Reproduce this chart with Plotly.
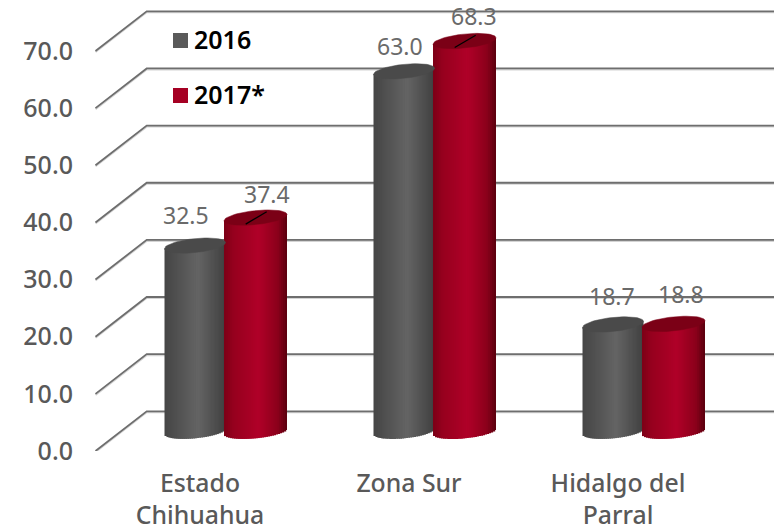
import math
import plotly.graph_objects as go

categories = ["Estado<br>Chihuahua", "Zona Sur", "Hidalgo del<br>Parral"]
values_2016 = [32.5, 63.0, 18.7]
values_2017 = [37.4, 68.3, 18.8]
y_ticks = [0, 10, 20, 30, 40, 50, 60, 70]

W, H = 774, 528
L, B = 77, 77
PX_X = 209.0          # pixels per category
PX_Y = 5.714          # pixels per value unit
CAT0 = 225.0          # pixel position of first category centre
FONT = "Noto Sans"

X = lambda px: (px - CAT0) / PX_X
Y = lambda py: (H - B - py) / PX_Y
DX = lambda px: px / PX_X
DY = lambda px: px / PX_Y

BASE = DY(19.7)       # cylinders stand half-way along the floor
WALL = DY(39.7)       # floor depth
TILT = 0.1 * PX_X / PX_Y
RY = DY(7.0)


def hex2rgb(c):
    return [int(c[i:i + 2], 16) for i in (1, 3, 5)]


def grad(stops, t):
    for (a, ca), (b, cb) in zip(stops, stops[1:]):
        if t <= b:
            f = (t - a) / (b - a)
            ra, rb = hex2rgb(ca), hex2rgb(cb)
            return "rgb(%d,%d,%d)" % tuple(round(p + (q - p) * f) for p, q in zip(ra, rb))
    return stops[-1][1]


series = [
    dict(name="2016", values=values_2016, shift=-30.0, rx=30.5, cap="#4a4a4a",
         stops=[(0, "#454545"), (0.55, "#646464"), (1, "#404040")],
         swatch="#5a5a5a", legend_y=40.5),
    dict(name="2017*", values=values_2017, shift=30.5, rx=31.5, cap="#7b0016",
         stops=[(0, "#7c0016"), (0.15, "#96001e"), (0.55, "#b00028"), (0.85, "#8c001b"), (1, "#5a000e")],
         swatch="#a50023", legend_y=95.5),
]

fig = go.Figure()
N = 31
for s in series:
    rx = DX(s["rx"])
    step = 2 * rx / N
    for j in range(N):
        u = -1 + (j + 0.5) * 2 / N
        top = [v + BASE + TILT * rx * u for v in s["values"]]
        bot = [BASE + TILT * rx * u - RY * math.sqrt(1 - u * u) for _ in s["values"]]
        fig.add_bar(
            x=list(range(len(categories))),
            y=[a - b for a, b in zip(top, bot)],
            base=bot,
            width=step * (1.6 if j < N - 1 else 1.0),
            offset=DX(s["shift"]) - rx + j * step,
            marker=dict(color=grad(s["stops"], (j + 0.5) / N), line_width=0),
            showlegend=False,
            hoverinfo="skip",
        )
    for i, v in enumerate(s["values"]):
        angles = [k * 2 * math.pi / 60 for k in range(61)]
        fig.add_scatter(
            x=[i + DX(s["shift"]) + rx * math.cos(t) for t in angles],
            y=[v + BASE + TILT * rx * math.cos(t) + RY * math.sin(t) for t in angles],
            mode="lines", fill="toself", fillcolor=s["cap"],
            line=dict(color=s["cap"], width=0.5),
            showlegend=False, hoverinfo="skip",
        )

# leader lines of the two tallest-offset labels
for i in (0, 1):
    cx = i + DX(series[1]["shift"])
    cy = values_2017[i] + BASE
    fig.add_scatter(
        x=[cx - DX(9.8), cx + DX(11.2)],
        y=[cy - DY(6.5), cy + DY(5.8)],
        mode="lines", line=dict(color="black", width=1.3),
        showlegend=False, hoverinfo="skip",
    )

annotations = []

# legend
for s in series:
    fig.add_scatter(
        x=[X(180.5)], y=[Y(s["legend_y"])], mode="markers",
        marker=dict(symbol="square", size=15, color=s["swatch"], line_width=0),
        name=s["name"], showlegend=False, hoverinfo="skip",
    )
    annotations.append(dict(
        x=X(194), y=Y(s["legend_y"] - 1.5), xref="x", yref="y",
        text=s["name"], showarrow=False, xanchor="left", yanchor="middle",
        borderpad=0, borderwidth=0,
        font=dict(family=FONT, size=25, color="black", weight=600),
    ))

# walls and floor lines
shapes = []
x_front, x_back, x_end = X(95.5), X(146.7), X(774)
for v in y_ticks:
    path = f"M {x_front} {v} L {x_back} {v + WALL} L {x_end} {v + WALL}"
    shadow = f"M {x_front} {v - DY(1)} L {x_back} {v + WALL - DY(1)} L {x_end} {v + WALL - DY(1)}"
    shapes.append(dict(type="path", path=shadow, xref="x", yref="y", layer="below",
                       line=dict(color="#d4d4d4", width=2)))
    shapes.append(dict(type="path", path=path, xref="x", yref="y", layer="below",
                       line=dict(color="#6e6e6e", width=1.8)))

# value labels
label_shift = [
    [(-9.5, 31), (-4, 25), (-1, 28)],
    [(11.5, 24), (9.5, 25), (7, 30)],
]
for s, shifts in zip(series, label_shift):
    for i, v in enumerate(s["values"]):
        annotations.append(dict(
            x=i + DX(s["shift"]), y=v + BASE, xref="x", yref="y",
            text=f"{v:.1f}", showarrow=False,
            xshift=shifts[i][0], yshift=shifts[i][1],
            xanchor="center", yanchor="middle",
            font=dict(family=FONT, size=23, color="#6a6a6a"),
        ))

fig.update_layout(
    width=W, height=H, autosize=False,
    margin=dict(l=L, r=0, t=0, b=B, pad=0),
    paper_bgcolor="white", plot_bgcolor="rgba(0,0,0,0)",
    barmode="overlay", showlegend=False,
    shapes=shapes, annotations=annotations,
    xaxis=dict(
        range=[X(L), X(W)], tickmode="array",
        tickvals=[i - DX(25) for i in range(len(categories))],
        ticktext=categories, showgrid=False, zeroline=False, showline=False,
        ticks="", ticklabelstandoff=15, automargin=False,
        tickfont=dict(family=FONT, size=24.8, color="#595959", weight=500),
    ),
    yaxis=dict(
        range=[0, Y(0)], tickmode="array", tickvals=y_ticks,
        ticktext=[f"{v:.1f}" for v in y_ticks],
        showgrid=False, zeroline=False, showline=False, ticks="",
        ticklabelstandoff=3, automargin=False,
        tickfont=dict(family=FONT, size=25, color="#595959", weight=500),
    ),
)

fig.write_html(
    "out.html",
    config=dict(displayModeBar=False),
    post_script="document.body.style.margin='0';document.documentElement.style.overflow='hidden';",
)
